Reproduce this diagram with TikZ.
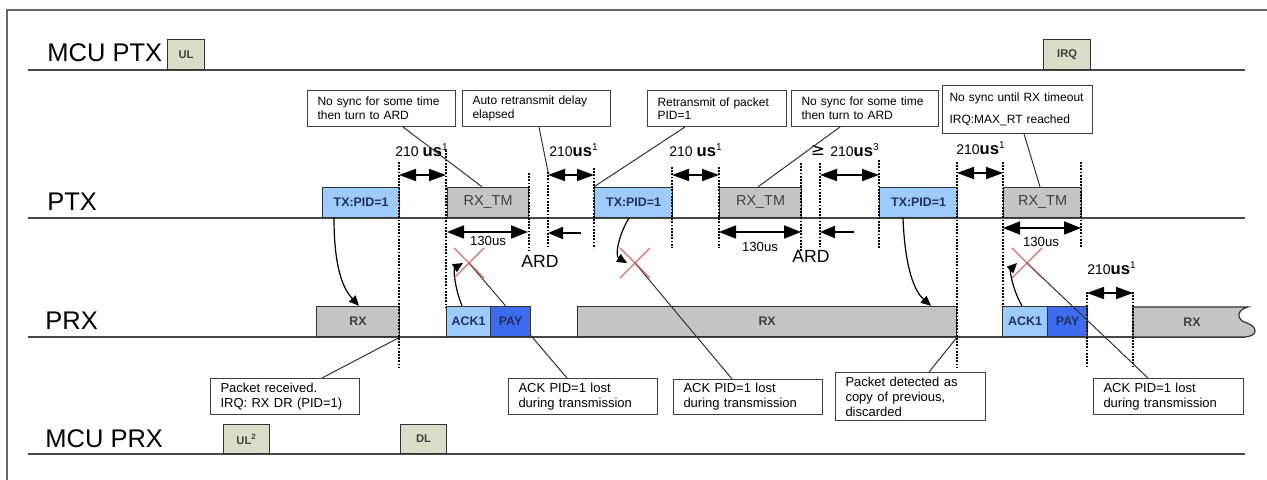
\documentclass[tikz,border=0pt]{standalone}
\usepackage{fontspec}
\setmainfont{Liberation Sans}
\newfontfamily\dejavu{DejaVu Sans}
\usetikzlibrary{arrows.meta}
\definecolor{txblue}{HTML}{9DCBFB}
\definecolor{paybl}{HTML}{3D6CF0}
\definecolor{navy}{HTML}{1F3060}
\definecolor{rxgray}{HTML}{C4C4C4}
\definecolor{olivebox}{HTML}{D9DCC6}
\definecolor{xred}{HTML}{D84848}
\tikzset{
  lane/.style={font=\fontsize{12.75}{14}\selectfont, anchor=base west, inner sep=0},
  ax/.style={draw=black!72, line width=1.1pt},
  dl/.style={line width=1.3pt, dash pattern=on 0.9pt off 0.7pt},
  blk/.style={draw=black!80, line width=0.6pt, inner sep=0, anchor=south west, minimum height=15pt},
  txb/.style={blk, fill=txblue, text=navy, font=\bfseries\fontsize{6.2}{7}\selectfont},
  rxtm/.style={blk, fill=rxgray, text=black!75, font=\fontsize{7.2}{8}\selectfont},
  rxb/.style={blk, fill=rxgray, text=black!75, font=\bfseries\fontsize{6.2}{7}\selectfont},
  ackb/.style={blk, fill=txblue, text=navy, font=\bfseries\fontsize{6.2}{7}\selectfont},
  payb/.style={blk, fill=paybl, text=navy, font=\bfseries\fontsize{6.2}{7}\selectfont},
  mcub/.style={blk, fill=olivebox, text=black!75, font=\bfseries\fontsize{5.6}{7}\selectfont},
  callout/.style={draw=black!75, fill=white, line width=0.5pt, anchor=north west, inner xsep=5pt, inner ysep=0, align=left},
  ctop/.style={callout, font=\fontsize{6}{6.8}\selectfont},
  cbot/.style={callout, font=\fontsize{6.5}{7.5}\selectfont},
  leader/.style={draw=black!80, line width=0.5pt},
  dim/.style={{Triangle[length=8.5pt,width=6pt]}-{Triangle[length=8.5pt,width=6pt]}, line width=0.9pt},
  dimb/.style={{Triangle[length=8.5pt,width=6.5pt]}-{Triangle[length=8.5pt,width=6.5pt]}, line width=0.9pt},
  lft/.style={-{Triangle[length=7.5pt,width=6pt]}, line width=0.9pt},
  curv/.style={-{Triangle[length=5pt,width=4.5pt]}, line width=0.6pt},
  xmark/.style={draw=xred, opacity=0.8, line width=0.6pt},
  lbl/.style={inner sep=0, anchor=base},
}
\newcommand{\tus}[2]{{\fontsize{7}{8}\selectfont #1}{\bfseries\fontsize{8.3}{9}\selectfont us}{\fontsize{7}{8}\selectfont\textsuperscript{#2}}}
\begin{document}
\begin{tikzpicture}[x=0.5pt,y=-0.5pt]
\useasboundingbox (0,0) rectangle (1267,480);
\fill[white] (0,0) rectangle (1267,480);
% frame
\draw[black!60, line width=1pt] (7,480) -- (7,10) -- (1267,10);

% lane labels
\node[lane] (lmp) at (47,62) {MCU PTX};
\node[lane] (lptx) at (47,211) {PTX};
\node[lane] (lprx) at (45,329) {PRX};
\node[lane] (lmr) at (45,447) {MCU PRX};

% axes
\draw[ax] (28,70) -- (1245,70);
\draw[ax] (28,218) -- (1245,218);
\draw[ax] (28,337) -- (1245,337);
\draw[ax] (28,454) -- (1245,454);

% cross centres
\coordinate (x1c) at (469,263);
\coordinate (x2c) at (635,263);
\coordinate (x3c) at (1027,263);

% bottom callouts
\node[cbot, minimum width=74.5pt, minimum height=18pt, text width=64.5pt] (c6) at (210,378) {Packet received.\\IRQ: RX DR (PID=1)};
\node[cbot, minimum width=74.5pt, minimum height=18pt, text width=64.5pt] (c7) at (508,378) {ACK PID=1 lost\\during transmission};
\node[cbot, minimum width=74.5pt, minimum height=17.5pt, text width=64.5pt] (c8) at (673,379) {ACK PID=1 lost\\during transmission};
\node[cbot, minimum width=75pt, minimum height=24pt, text width=65pt] (c9) at (835,372) {Packet detected as\\copy of previous,\\discarded};
\node[cbot, minimum width=75pt, minimum height=18pt, text width=65pt] (c10) at (1093,378) {ACK PID=1 lost\\during transmission};

% leader hidden behind PAY
\draw[leader] ([xshift=29.5pt]c7.north west) -- (x1c);

% MCU boxes
\node[mcub, minimum width=18.5pt] (ul) at (167,70) {UL};
\node[mcub, minimum width=23.5pt] (irq) at (1043,70) {IRQ};
\node[mcub, minimum width=23pt, minimum height=14.5pt] (ul2) at (223,454) {UL\textsuperscript{2}};
\node[mcub, minimum width=23pt, minimum height=14.5pt] (dlb) at (400,454) {DL};

% PTX blocks
\node[txb, minimum width=38.5pt] (tx1) at (322,218) {TX:PID=1};
\node[rxtm, minimum width=40.5pt] (rxtm1) at (447,218) {RX\_TM};
\node[txb, minimum width=39pt] (tx2) at (594,218) {TX:PID=1};
\node[rxtm, minimum width=41pt] (rxtm2) at (719,218) {RX\_TM};
\node[txb, minimum width=39pt] (tx3) at (879,218) {TX:PID=1};
\node[rxtm, minimum width=39pt] (rxtm3) at (1003,218) {RX\_TM};

% PRX blocks
\node[rxb, minimum width=41.5pt] (rx1) at (316,337) {RX};
\node[ackb, minimum width=22pt] (ack1a) at (446,337) {ACK1};
\node[payb, minimum width=20pt] (paya) at (490,337) {PAY};
\node[rxb, minimum width=189.5pt] (rx2) at (577,337) {RX};
\node[ackb, minimum width=22.5pt] (ack1b) at (1002,337) {ACK1};
\node[payb, minimum width=20pt] (payb) at (1047,337) {PAY};
\filldraw[fill=rxgray, draw=black!80, line width=0.6pt] (1133,337) -- (1133,307) -- (1248,307)
  .. controls (1236,310) and (1236,320) .. (1247,323)
  .. controls (1258,327) and (1258,336) .. (1245,337) -- cycle;
\node[font=\bfseries\fontsize{6.2}{7}\selectfont, text=black!75] (rx3) at (1192,322) {RX};

% dotted verticals
\foreach \x/\a/\b in {399/162/367, 446/150/307, 529/173/250, 548/172/248, 594/168/248,
  672/167/248, 719/167/248, 801/163/252, 820/163/247, 879/160/248,
  957/162/367, 1003/162/307, 1081/162/248, 1087/292/367, 1133/292/367}
  \draw[dl] (\x,\a) -- (\x,\b);
\coordinate (ardtop) at (548,172);

% 210us dimension arrows
\draw[dim] (399,175) -- (446,175);
\draw[dim] (548,175) -- (594,175);
\draw[dim] (672,175) -- (719,175);
\draw[dim] (820,175) -- (879,175);
\draw[dim] (957,173) -- (1003,173);
\draw[dim] (1087,293) -- (1133,293);
\node[lbl] (t1) at (422,157) {\tus{210 }{1}};
\node[lbl] (t2) at (574,157) {\tus{210}{1}};
\node[lbl] (t3) at (696,157) {\tus{210 }{1}};
\node[lbl] (t4) at (855,157) {\tus{210}{3}};
\node[lbl, font=\dejavu\fontsize{8.5}{9}\selectfont] (ge) at (818,156) {≥};
\node[lbl] (t5) at (981,155) {\tus{210}{1}};
\node[lbl] (t6) at (1112,275) {\tus{210}{1}};

% 130us arrows
\draw[dimb] (447,232) -- (528,232);
\draw[dimb] (719,232) -- (801,232);
\draw[dimb] (1003,228) -- (1081,228);
\node[lbl, font=\fontsize{6.6}{7}\selectfont] (u1) at (488,246) {130us};
\node[lbl, font=\fontsize{6.6}{7}\selectfont] (u2) at (760,252) {130us};
\node[lbl, font=\fontsize{6.6}{7}\selectfont] (u3) at (1041,247) {130us};

% ARD
\draw[lft] (581,233) -- (548,233);
\draw[lft] (854,232) -- (820,232);
\node[lbl, font=\fontsize{8.8}{9}\selectfont] (ard1) at (540,268) {ARD};
\node[lbl, font=\fontsize{8.8}{9}\selectfont] (ard2) at (811,263) {ARD};

% top callouts
\node[ctop, minimum width=74pt, minimum height=18pt, text width=64pt] (c1) at (307,90) {No sync for some time\\then turn to ARD};
\node[ctop, minimum width=74pt, minimum height=18pt, text width=64pt] (c2) at (462,90) {Auto retransmit delay\\elapsed};
\node[ctop, minimum width=69.5pt, minimum height=18pt, text width=59.5pt] (c3) at (647,90) {Retransmit of packet\\PID=1};
\node[ctop, minimum width=73.5pt, minimum height=18pt, text width=63.5pt] (c4) at (791,90) {No sync for some time\\then turn to ARD};
\node[ctop, inner xsep=3.5pt, minimum width=75pt, minimum height=24pt, text width=68pt, font=\fontsize{6}{11}\selectfont] (c5) at (942,85) {No sync until RX timeout\\IRQ:MAX\_RT reached};

% top leaders
\draw[leader] ([xshift=48pt]c1.south west) -- ([xshift=17.5pt]rxtm1.north west);
\draw[leader] ([xshift=38.5pt]c2.south west) -- (ardtop);
\draw[leader] ([xshift=19pt]c3.south west) -- (tx2.north west);
\draw[leader] ([xshift=24.5pt]c4.south west) -- ([xshift=19.5pt]rxtm2.north west);
\draw[leader] ([xshift=41pt]c5.south west) -- ([xshift=18.5pt]rxtm3.north west);

% bottom leaders
\draw[leader] ([xshift=56pt]c6.north west) -- (rx1.south east);
\draw[leader] ([xshift=29.5pt]c8.north west) -- (x2c);
\draw[leader] ([xshift=47pt]c9.north west) -- (rx2.south east);
\draw[leader] ([xshift=27.5pt]c10.north west) -- (x3c);

% curved arrows
\draw[curv] ([xshift=6pt]tx1.south west) .. controls +(0,-28.5pt) and +(-6.5pt,7pt) .. ([xshift=21.5pt]rx1.north west);
\draw[curv] ([xshift=12pt]tx3.south west) .. controls +(1pt,-26pt) and +(-8pt,7pt) .. ([xshift=177pt]rx2.north west);
\draw[curv] ([xshift=17.5pt]tx2.south west) .. controls +(-5.5pt,-9pt) and +(-6pt,3.5pt) .. ([xshift=-4pt]x2c);
\draw[curv] ([xshift=8pt]ack1a.north west) .. controls +(-3.5pt,8.5pt) and +(-5pt,-3pt) .. ([xshift=-3pt]x1c);
\draw[curv] ([xshift=10pt]ack1b.north west) .. controls +(-5pt,8.5pt) and +(-3.5pt,-3.5pt) .. ([xshift=-5pt]x3c);

% red crosses
\foreach \c in {x1c,x2c,x3c}{
  \draw[xmark] ([shift={(-7.5pt,7.5pt)}]\c) -- ([shift={(7.5pt,-7.5pt)}]\c);
  \draw[xmark] ([shift={(7.5pt,7.5pt)}]\c) -- ([shift={(-7.5pt,-7.5pt)}]\c);
}
\end{tikzpicture}
\end{document}
